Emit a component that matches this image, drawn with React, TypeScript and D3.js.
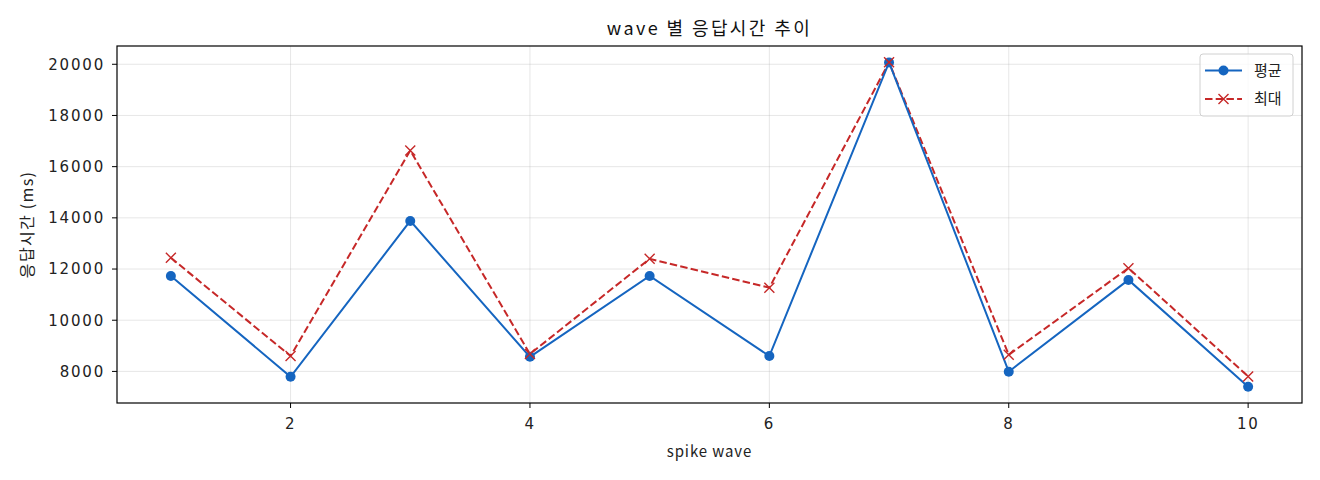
import * as d3 from "d3";

// wave 번호
const waves = [1, 2, 3, 4, 5, 6, 7, 8, 9, 10];
// 평균 응답시간 (ms)
const avgMs = [11730, 7790, 13880, 8570, 11730, 8600, 20070, 7990, 11575, 7400];
// 최대 응답시간 (ms)
const maxMs = [12440, 8600, 16630, 8680, 12400, 11270, 20080, 8650, 12035, 7805];

const xTicks = [2, 4, 6, 8, 10];
const yTicks = [8000, 10000, 12000, 14000, 16000, 18000, 20000];

const W = 1320;
const H = 480;
const M = { top: 46, right: 18, bottom: 77, left: 117 };
const FONT = "'Noto Sans CJK KR', 'Noto Sans', sans-serif";
const NUM_FONT = "'DejaVu Sans', sans-serif";
const BLUE = "#1565c0";
const RED = "#c62828";

export default function App() {
  const innerW = W - M.left - M.right;
  const innerH = H - M.top - M.bottom;

  // matplotlib-style 5% margins
  const xPad = (d3.max(waves)! - d3.min(waves)!) * 0.05;
  const allY = [...avgMs, ...maxMs];
  const yPad = (d3.max(allY)! - d3.min(allY)!) * 0.05;

  const x = d3
    .scaleLinear()
    .domain([d3.min(waves)! - xPad, d3.max(waves)! + xPad])
    .range([0, innerW]);
  const y = d3
    .scaleLinear()
    .domain([d3.min(allY)! - yPad, d3.max(allY)! + yPad])
    .range([innerH, 0]);

  const line = d3
    .line<number>()
    .x((_, i) => x(waves[i]))
    .y((d) => y(d));

  const xs = 5; // half-size of x marker

  return (
    <svg width={W} height={H} style={{ display: "block", margin: -8 }} fontFamily={FONT}>
      <rect width={W} height={H} fill="#fff" />
      <text x={M.left + innerW / 2} y={35} textAnchor="middle" fontSize={18} letterSpacing={2.4} fill="#111">
        wave 별 응답시간 추이
      </text>
      <g transform={`translate(${M.left},${M.top})`}>
        {/* grid */}
        {xTicks.map((t) => (
          <line key={`gx${t}`} x1={x(t)} x2={x(t)} y1={0} y2={innerH} stroke="#b0b0b0" strokeOpacity={0.3} strokeWidth={1} />
        ))}
        {yTicks.map((t) => (
          <line key={`gy${t}`} x1={0} x2={innerW} y1={y(t)} y2={y(t)} stroke="#b0b0b0" strokeOpacity={0.3} strokeWidth={1} />
        ))}

        {/* 최대 */}
        <path d={line(maxMs)!} fill="none" stroke={RED} strokeWidth={2} strokeDasharray="7.5,3.2" />
        {/* 평균 */}
        <path d={line(avgMs)!} fill="none" stroke={BLUE} strokeWidth={2} />
        {avgMs.map((v, i) => (
          <circle key={`a${i}`} cx={x(waves[i])} cy={y(v)} r={5} fill={BLUE} />
        ))}
        {maxMs.map((v, i) => (
          <path
            key={`m${i}`}
            d={`M${x(waves[i]) - xs},${y(v) - xs}L${x(waves[i]) + xs},${y(v) + xs}M${x(waves[i]) - xs},${y(v) + xs}L${x(waves[i]) + xs},${y(v) - xs}`}
            stroke={RED}
            strokeWidth={1.4}
          />
        ))}

        {/* frame */}
        <rect x={0} y={0} width={innerW} height={innerH} fill="none" stroke="#000" strokeWidth={1.2} />

        {/* x axis */}
        {xTicks.map((t) => (
          <g key={`tx${t}`} transform={`translate(${x(t)},${innerH})`}>
            <line y2={5} stroke="#000" strokeWidth={1} />
            <text y={26} textAnchor="middle" fontFamily={NUM_FONT} fontSize={15} letterSpacing={1.5} fill="#222">
              {t}
            </text>
          </g>
        ))}
        {/* y axis */}
        {yTicks.map((t) => (
          <g key={`ty${t}`} transform={`translate(0,${y(t)})`}>
            <line x2={-5} stroke="#000" strokeWidth={1} />
            <text x={-12} dy="0.36em" textAnchor="end" fontFamily={NUM_FONT} fontSize={15} letterSpacing={1.8} fill="#222">
              {t}
            </text>
          </g>
        ))}

        {/* legend */}
        <g transform={`translate(${innerW - 102},8)`}>
          <rect x={0} y={0} width={93} height={62} rx={3} fill="#fff" fillOpacity={0.8} stroke="#d0d0d0" />
          <line x1={5} x2={42} y1={16.5} y2={16.5} stroke={BLUE} strokeWidth={2} />
          <circle cx={23.5} cy={16.5} r={5} fill={BLUE} />
          <text x={54} y={16.5} dy="0.35em" fontSize={15} fill="#222">평균</text>
          <line x1={5} x2={42} y1={45} y2={45} stroke={RED} strokeWidth={2} strokeDasharray="7.5,3.2" />
          <path d={`M${23.5 - xs},${45 - xs}L${23.5 + xs},${45 + xs}M${23.5 - xs},${45 + xs}L${23.5 + xs},${45 - xs}`} stroke={RED} strokeWidth={1.4} />
          <text x={54} y={45} dy="0.35em" fontSize={15} fill="#222">최대</text>
        </g>
      </g>
      <text x={M.left + innerW / 2} y={457} textAnchor="middle" fontSize={15} letterSpacing={0.9} fill="#222">
        spike wave
      </text>
      <text
        transform={`translate(33,${M.top + innerH / 2}) rotate(-90)`}
        textAnchor="middle"
        fontSize={16}
        letterSpacing={1.3}
        fill="#222"
      >
        응답시간 (ms)
      </text>
    </svg>
  );
}
